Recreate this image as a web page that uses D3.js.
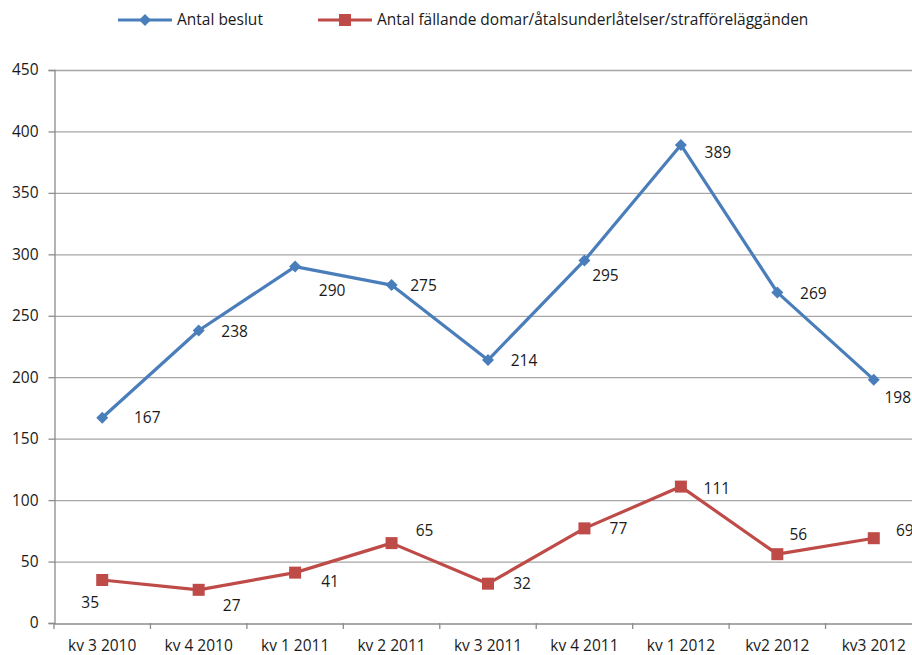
<!DOCTYPE html>
<html><head><meta charset="utf-8">
<script src="https://cdn.jsdelivr.net/npm/d3@7"></script>
<style>body{margin:0;background:#fff}svg{display:block}text{font-family:"Open Sans",sans-serif;fill:#1a1a1a}</style>
</head><body><svg id="c" width="912" height="655"></svg>
<script>
const categories = ["kv 3 2010","kv 4 2010","kv 1 2011","kv 2 2011","kv 3 2011","kv 4 2011","kv 1 2012","kv2 2012","kv3 2012"];
const beslut = [167,238,290,275,214,295,389,269,198];
const fallande = [35,27,41,65,32,77,111,56,69];
const yTicks = [0,50,100,150,200,250,300,350,400,450];
const seriesNames = ["Antal beslut","Antal fällande domar/åtalsunderlåtelser/strafföreläggänden"];
// label offsets (layout only)
const beslutLabelOff = [[45,0],[36,1],[37,24],[32,1],[36,1],[21,15],[37,8],[36,1],[24,18]];
const fallandeLabelOff = [[-12,23],[33,16],[35,9],[33,-13],[34,0],[34,0],[36,2],[21,-20],[31,-8]];

(function(){
const FS = "15.5px";
const svg = d3.select("#c");
const mLeft = 54, mRight = 922, mTop = 70, mBottom = 623;
const x = d3.scaleBand().domain(categories).range([mLeft, mRight]);
const y = d3.scaleLinear().domain([0,450]).range([mBottom, mTop]);
const cx = d => x(d) + x.bandwidth()/2;

// gridlines
svg.append("g").selectAll("line").data(yTicks.filter(t=>t>0)).join("line")
  .attr("x1", mLeft).attr("x2", 912).attr("y1", d=>y(d)+0.5).attr("y2", d=>y(d)+0.5)
  .attr("stroke", "#a6a6a6").attr("stroke-width", 1.3);

// y axis
const ya = svg.append("g").attr("transform", `translate(${mLeft+0.5},0)`)
  .call(d3.axisLeft(y).tickValues(yTicks).tickSize(6).tickPadding(10).tickFormat(d3.format("d")));
ya.select(".domain").attr("stroke","#8c8c8c").attr("stroke-width",1.3);
ya.selectAll(".tick line").attr("stroke","#8c8c8c").attr("stroke-width",1.3);
ya.selectAll("text").style("font-size",FS).attr("fill","#1a1a1a");

// x axis
const xa = svg.append("g").attr("transform", `translate(0,${mBottom+0.5})`)
  .call(d3.axisBottom(x).tickSize(0).tickPadding(16));
xa.select(".domain").attr("stroke","#8c8c8c").attr("stroke-width",1.3);
xa.selectAll("text").style("font-size",FS).attr("fill","#1a1a1a");
svg.append("g").selectAll("line").data(categories.concat(["__end"])).join("line")
  .attr("x1", (d,i)=> i<categories.length ? x(d) : mRight)
  .attr("x2", (d,i)=> i<categories.length ? x(d) : mRight)
  .attr("y1", mBottom).attr("y2", mBottom+6)
  .attr("stroke","#8c8c8c").attr("stroke-width",1.3);

const blue = "#4a7ebb", red = "#be4b48";
const line = d3.line().x((d,i)=>cx(categories[i])).y(d=>y(d));

function series(vals, color, marker, offs){
  svg.append("path").datum(vals).attr("d", line).attr("fill","none")
    .attr("stroke", color).attr("stroke-width", 3.2).attr("stroke-linejoin","round");
  const g = svg.append("g");
  vals.forEach((v,i)=>{
    const px = cx(categories[i]), py = y(v);
    if (marker === "diamond") {
      g.append("path").attr("d", `M${px},${py-6}L${px+6},${py}L${px},${py+6}L${px-6},${py}Z`).attr("fill", color);
    } else {
      g.append("rect").attr("x", px-6).attr("y", py-6).attr("width",12).attr("height",12).attr("fill", color);
    }
    g.append("text").attr("x", px+offs[i][0]).attr("y", py+offs[i][1]).attr("dy","0.35em")
      .attr("text-anchor","middle").style("font-size",FS).text(v);
  });
}
series(beslut, blue, "diamond", beslutLabelOff);
series(fallande, red, "square", fallandeLabelOff);

// legend
const lg = svg.append("g");
[[118, blue, "diamond", seriesNames[0]],[318, red, "square", seriesNames[1]]].forEach(([lx,c,m,t])=>{
  lg.append("line").attr("x1",lx).attr("x2",lx+54).attr("y1",20).attr("y2",20).attr("stroke",c).attr("stroke-width",3.2);
  const mx = lx+27;
  if (m==="diamond") lg.append("path").attr("d",`M${mx},14L${mx+6},20L${mx},26L${mx-6},20Z`).attr("fill",c);
  else lg.append("rect").attr("x",mx-6).attr("y",14).attr("width",12).attr("height",12).attr("fill",c);
  lg.append("text").attr("x",lx+59).attr("y",20).attr("dy","0.35em").style("font-size",FS).text(t);
});
})();
</script></body></html>
